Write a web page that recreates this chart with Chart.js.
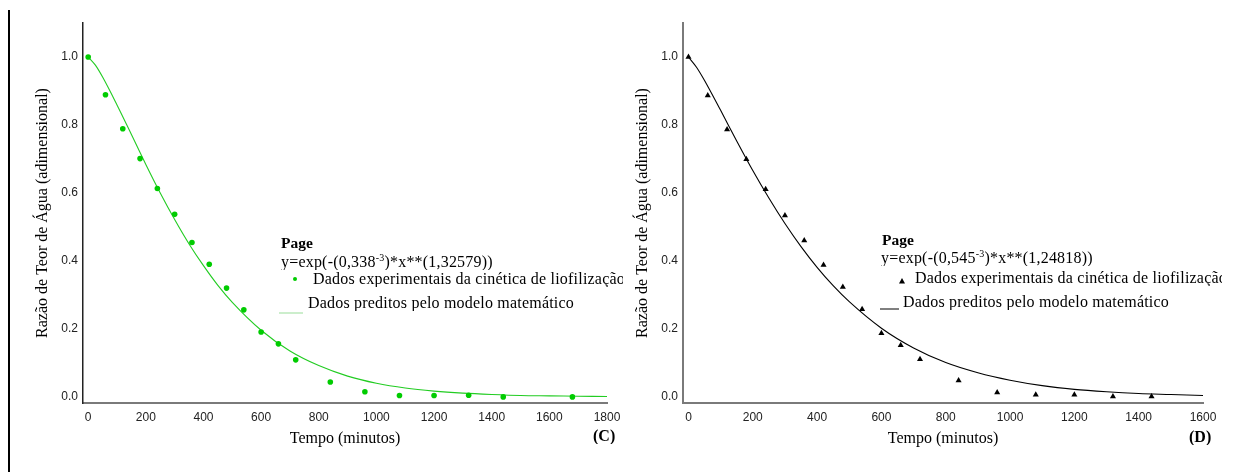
<!DOCTYPE html>
<html>
<head>
<meta charset="utf-8">
<script src="https://cdn.jsdelivr.net/npm/chart.js@4/dist/chart.umd.min.js"></script>
<style>
  body { margin: 0; background: #fff; width: 1237px; height: 472px; overflow: hidden; position: relative; }
  .panel { position: absolute; top: 0; height: 472px; }
  .note { position: absolute; font-family: "Liberation Serif", "Times New Roman", serif; font-size: 16px; letter-spacing: 0.2px; line-height: 1; color: #000; white-space: nowrap; overflow: hidden; }
  .note sup { font-size: 10px; line-height: 0; }
  .bold { font-weight: bold; letter-spacing: 0; }
  .frame { position: absolute; left: 8px; top: 10px; width: 2px; height: 462px; background: #000; }
</style>
</head>
<body>
<div class="frame"></div>
<div class="panel" style="left:0;width:620px"><canvas id="chartC" width="620" height="472"></canvas></div>
<div class="panel" style="left:620px;width:617px"><canvas id="chartD" width="617" height="472"></canvas></div>

<!-- annotations (C) -->
<div class="note bold" style="left:281px;top:235px;font-size:15.5px">Page</div>
<div class="note" style="left:281px;top:253.5px">y=exp(-(0,338<sup>-3</sup>)*x**(1,32579))</div>
<div class="note" style="left:313px;top:270.5px;width:310px">Dados experimentais da cinética de liofilização</div>
<div class="note" style="left:308px;top:294.5px">Dados preditos pelo modelo matemático</div>
<div class="note bold" style="left:593px;top:428px;font-size:16px">(C)</div>

<!-- annotations (D) -->
<div class="note bold" style="left:882px;top:232px;font-size:15.5px">Page</div>
<div class="note" style="left:881px;top:249.5px">y=exp(-(0,545<sup>-3</sup>)*x**(1,24818))</div>
<div class="note" style="left:915px;top:269.5px;width:307px">Dados experimentais da cinética de liofilização</div>
<div class="note" style="left:903px;top:293.5px">Dados preditos pelo modelo matemático</div>
<div class="note bold" style="left:1189px;top:429px;font-size:16px">(D)</div>

<script>
// Tempo (minutos) of the experimental points
const timesC = [0, 60, 120, 180, 240, 300, 360, 420, 480, 540, 600, 660, 720, 840, 960, 1080, 1200, 1320, 1440, 1680];
const timesD = [0, 60, 120, 180, 240, 300, 360, 420, 480, 540, 600, 660, 720, 840, 960, 1080, 1200, 1320, 1440];

// Razão de Teor de Água
const expC = [1.0, 0.889, 0.789, 0.701, 0.613, 0.537, 0.454, 0.390, 0.320, 0.256, 0.191, 0.156, 0.109, 0.044, 0.015, 0.004, 0.004, 0.005, 0.0, 0.0];
const expD = [1.0, 0.887, 0.787, 0.699, 0.611, 0.534, 0.460, 0.388, 0.323, 0.258, 0.187, 0.152, 0.111, 0.048, 0.013, 0.006, 0.006, 0.001, 0.001];

// predicted curves
const curveTimesC = [0, 25, 50, 100, 150, 200, 250, 300, 350, 400, 450, 500, 600, 700, 800, 900, 1000, 1100, 1200, 1300, 1400, 1500, 1600, 1700, 1800];
const curveC = [1.0, 0.976, 0.941, 0.859, 0.772, 0.684, 0.600, 0.522, 0.450, 0.386, 0.328, 0.278, 0.196, 0.135, 0.092, 0.061, 0.040, 0.026, 0.017, 0.011, 0.007, 0.004, 0.003, 0.002, 0.001];
const curveTimesD = [0, 25, 50, 100, 150, 200, 250, 300, 350, 400, 450, 500, 600, 700, 800, 900, 1000, 1100, 1200, 1300, 1400, 1500, 1600];
const curveD = [1.0, 0.970, 0.931, 0.843, 0.753, 0.666, 0.585, 0.510, 0.442, 0.381, 0.327, 0.280, 0.202, 0.144, 0.101, 0.071, 0.049, 0.033, 0.022, 0.015, 0.010, 0.007, 0.004];

const yTicks = [0, 0.2, 0.4, 0.6, 0.8, 1.0];
const xTicksC = [0, 200, 400, 600, 800, 1000, 1200, 1400, 1600, 1800];
const xTicksD = [0, 200, 400, 600, 800, 1000, 1200, 1400, 1600];

const tickFont = { family: '"Liberation Sans", Arial, sans-serif', size: 12 };
const titleFont = { family: '"Liberation Serif", "Times New Roman", serif', size: 16 };

function pairs(xs, ys) {
  return xs.map((x, i) => ({ x: x, y: ys[i] }));
}

// little legend markers drawn next to the note text
const legendMarks = {
  id: 'legendMarks',
  afterDraw(chart) {
    const m = chart.options.plugins.legendMarks;
    const ctx = chart.ctx;
    ctx.save();
    ctx.fillStyle = m.color;
    ctx.strokeStyle = m.lineColor;
    ctx.lineWidth = 1;
    if (m.symbol === 'circle') {
      ctx.beginPath();
      ctx.arc(m.symX, m.symY, 2, 0, Math.PI * 2);
      ctx.fill();
    } else {
      ctx.beginPath();
      ctx.moveTo(m.symX, m.symY - 3);
      ctx.lineTo(m.symX + 3, m.symY + 2.5);
      ctx.lineTo(m.symX - 3, m.symY + 2.5);
      ctx.closePath();
      ctx.fill();
    }
    ctx.beginPath();
    ctx.moveTo(m.lineX1, m.lineY);
    ctx.lineTo(m.lineX2, m.lineY);
    ctx.stroke();
    ctx.restore();
  }
};

function makeChart(id, opts) {
  return new Chart(document.getElementById(id), {
    type: 'scatter',
    data: {
      datasets: [
        {
          label: 'Dados experimentais da cinética de liofilização',
          data: pairs(opts.times, opts.exp),
          pointStyle: opts.symbol,
          pointRadius: opts.symbol === 'circle' ? 2.8 : 3.5,
          pointBackgroundColor: opts.pointColor,
          pointBorderWidth: 0,
          showLine: false
        },
        {
          label: 'Dados preditos pelo modelo matemático',
          data: pairs(opts.curveTimes, opts.curve),
          showLine: true,
          borderColor: opts.lineColor,
          borderWidth: 1.1,
          pointRadius: 0,
          cubicInterpolationMode: 'monotone'
        }
      ]
    },
    options: {
      responsive: false,
      animation: false,
      layout: { padding: { left: opts.padLeft, right: opts.padRight, top: 23, bottom: 0 } },
      plugins: {
        legend: { display: false },
        tooltip: { enabled: false },
        legendMarks: opts.marks
      },
      scales: {
        x: {
          type: 'linear',
          min: opts.xMin,
          max: opts.xMax,
          afterBuildTicks: s => { s.ticks = opts.xTicks.map(v => ({ value: v })); },
          afterFit: s => { s.height = 69; s.paddingLeft = 0; s.paddingRight = 0; },
          grid: { display: false, drawTicks: false },
          border: { display: true, color: '#7a7a7a', width: 2 },
          ticks: { font: tickFont, color: '#222', padding: 7, maxRotation: 0, callback: v => String(v) },
          title: { display: true, text: 'Tempo (minutos)', font: titleFont, color: '#000', padding: { top: 0, bottom: 24 } }
        },
        y: {
          type: 'linear',
          min: -0.018,
          max: 1.1,
          afterBuildTicks: s => { s.ticks = yTicks.map(v => ({ value: v })); },
          afterFit: s => { s.width = opts.yWidth; s.paddingTop = 0; s.paddingBottom = 0; },
          grid: { display: false, drawTicks: false },
          border: { display: true, color: opts.yAxisColor, width: opts.yAxisWidth },
          ticks: { font: tickFont, color: '#222', padding: 5, callback: v => v.toFixed(1) },
          title: { display: true, text: 'Razão de Teor de Água (adimensional)', font: titleFont, color: '#000', padding: { top: opts.yTitlePad, bottom: 0 } }
        }
      }
    },
    plugins: [legendMarks]
  });
}

Chart.defaults.font.family = '"Liberation Sans", Arial, sans-serif';

makeChart('chartC', {
  times: timesC, exp: expC, curveTimes: curveTimesC, curve: curveC,
  symbol: 'circle', pointColor: '#00cc00', lineColor: '#22cc22',
  xMin: -18, xMax: 1800, xTicks: xTicksC,
  padLeft: 20, padRight: 13, yWidth: 63, yTitlePad: 13.4,
  yAxisColor: '#222', yAxisWidth: 1.5,
  marks: { symbol: 'circle', color: '#00cc00', lineColor: '#99dd99', symX: 295, symY: 279, lineX1: 279, lineX2: 303, lineY: 313 }
});

makeChart('chartD', {
  times: timesD, exp: expD, curveTimes: curveTimesD, curve: curveD,
  symbol: 'triangle', pointColor: '#000', lineColor: '#000',
  xMin: -17, xMax: 1600, xTicks: xTicksD,
  padLeft: 0, padRight: 34, yWidth: 63, yTitlePad: 12.9,
  yAxisColor: '#7a7a7a', yAxisWidth: 2,
  marks: { symbol: 'triangle', color: '#000', lineColor: '#000', symX: 282, symY: 281, lineX1: 260, lineX2: 279, lineY: 309 }
});
</script>
</body>
</html>
